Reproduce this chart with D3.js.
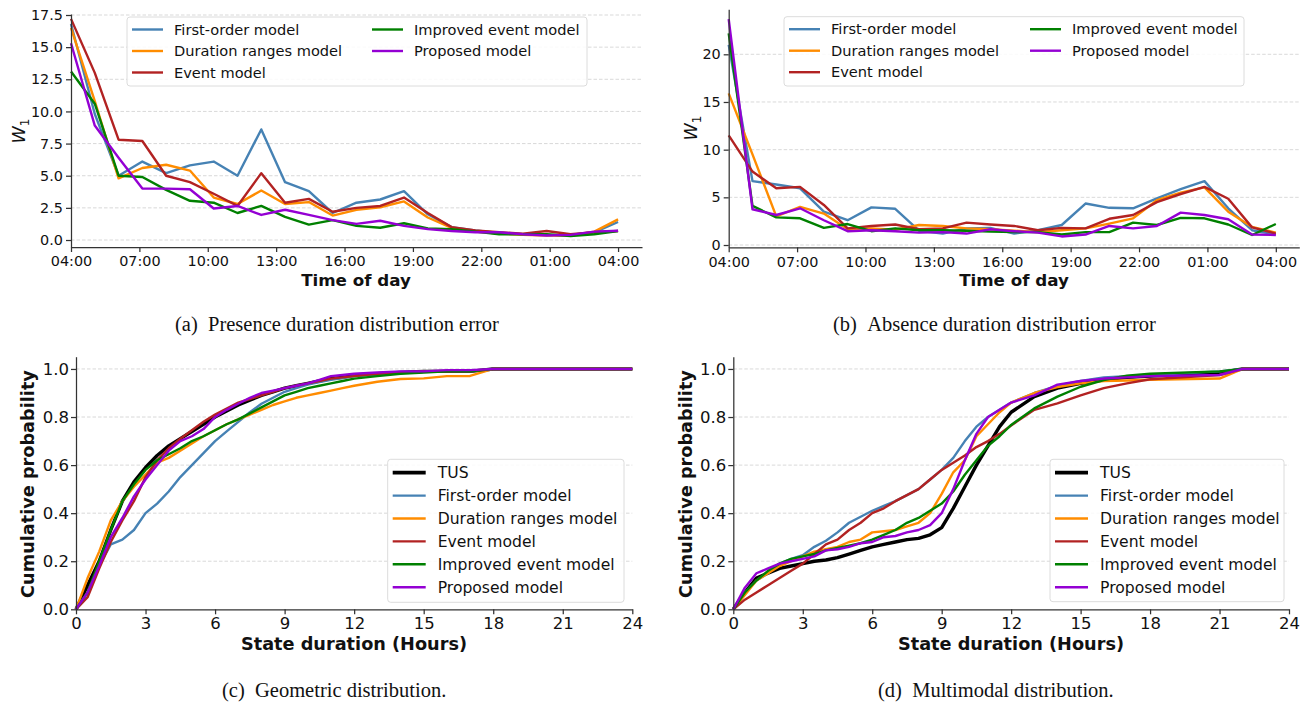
<!DOCTYPE html>
<html>
<head>
<meta charset="utf-8">
<script src="https://cdn.jsdelivr.net/npm/d3@7"></script>
<style>
  body { margin: 0; background: #fff; }
  svg { display: block; }
</style>
</head>
<body>
<svg id="chart" width="1313" height="705"></svg>
<script>
// ---------- data ----------
var modelNames = ["First-order model", "Duration ranges model", "Event model", "Improved event model", "Proposed model"];
var modelColors = ["#4682b4", "#ff8c00", "#b22222", "#008000", "#9400d3"];

var timeTickHours = [0, 3, 6, 9, 12, 15, 18, 21, 24];
var timeTickLabels = ["04:00", "07:00", "10:00", "13:00", "16:00", "19:00", "22:00", "01:00", "04:00"];

// (a) presence duration error, 24 samples from 04:00 to 04:00
var presFirst    = [16.8, 9.8, 5.0, 6.1, 5.2, 5.8, 6.1, 5.0, 8.6, 4.5, 3.8, 2.1, 2.9, 3.15, 3.8, 2.0, 1.0, 0.75, 0.55, 0.45, 0.4, 0.4, 0.6, 1.4];
var presDuration = [16.5, 10.8, 4.8, 5.6, 5.85, 5.4, 3.3, 2.8, 3.85, 2.8, 2.95, 1.9, 2.35, 2.55, 3.0, 1.75, 0.95, 0.65, 0.5, 0.4, 0.35, 0.35, 0.65, 1.6];
var presEvent    = [17.2, 13.0, 7.8, 7.7, 5.0, 4.5, 3.6, 2.65, 5.2, 2.9, 3.2, 2.2, 2.5, 2.65, 3.3, 2.1, 1.0, 0.75, 0.6, 0.5, 0.7, 0.45, 0.6, 0.7];
var presImproved = [13.1, 10.6, 5.0, 4.9, 3.9, 3.05, 2.9, 2.1, 2.65, 1.8, 1.2, 1.55, 1.1, 0.95, 1.3, 0.9, 0.85, 0.65, 0.45, 0.45, 0.45, 0.3, 0.45, 0.7];
var presProposed = [15.3, 8.9, 6.4, 4.0, 4.0, 3.95, 2.45, 2.65, 1.95, 2.35, 1.95, 1.55, 1.25, 1.5, 1.1, 0.85, 0.7, 0.6, 0.6, 0.45, 0.35, 0.4, 0.65, 0.72];

// (b) absence duration error
var absFirst    = [21.0, 6.7, 6.35, 5.95, 3.5, 2.6, 3.95, 3.8, 1.5, 1.2, 1.75, 1.8, 1.2, 1.55, 2.1, 4.35, 3.9, 3.85, 4.9, 5.85, 6.7, 3.85, 1.55, 1.1];
var absDuration = [15.9, 9.5, 3.0, 4.0, 3.3, 1.65, 1.75, 1.6, 2.1, 2.0, 1.75, 1.65, 1.5, 1.35, 1.55, 1.75, 2.25, 2.8, 4.7, 5.5, 6.05, 3.5, 1.9, 1.3];
var absEvent    = [11.5, 7.7, 5.95, 6.1, 4.2, 1.75, 2.0, 2.15, 1.65, 1.75, 2.35, 2.15, 2.0, 1.55, 1.8, 1.75, 2.75, 3.15, 4.5, 5.35, 6.1, 4.85, 1.85, 1.2];
var absImproved = [22.2, 4.1, 2.9, 2.8, 1.8, 2.2, 1.45, 1.75, 1.55, 1.55, 1.5, 1.4, 1.35, 1.35, 1.1, 1.35, 1.35, 2.35, 2.1, 2.85, 2.8, 2.15, 1.05, 2.2];
var absProposed = [23.7, 3.75, 3.15, 3.85, 2.6, 1.45, 1.55, 1.45, 1.3, 1.35, 1.2, 1.65, 1.45, 1.3, 0.9, 1.1, 2.0, 1.75, 2.0, 3.4, 3.15, 2.7, 1.1, 1.05];

// (c), (d) cumulative distributions of state duration
var durHours = [0, 0.5, 1, 1.5, 2, 2.5, 3, 3.5, 4, 4.5, 5, 5.5, 6, 6.5, 7, 7.5, 8, 8.5, 9, 9.5, 10, 10.5, 11, 11.5, 12, 13, 14, 15, 16, 17, 18, 21, 22, 24];

var geoTUS      = [0, .10, .20, .33, .45, .53, .59, .64, .68, .71, .74, .77, .80, .825, .85, .87, .89, .905, .92, .93, .94, .95, .96, .965, .975, .98, .985, .99, .99, .99, 1, 1, 1, 1];
var geoFirst    = [0, .07, .18, .27, .29, .33, .40, .44, .49, .55, .60, .65, .70, .74, .78, .82, .855, .88, .905, .92, .935, .945, .955, .962, .97, .978, .985, .99, .99, .99, 1, 1, 1, 1];
var geoDuration = [0, .13, .24, .37, .45, .51, .56, .61, .63, .66, .69, .72, .745, .77, .79, .81, .83, .85, .865, .88, .89, .90, .91, .92, .93, .947, .958, .961, .97, .971, 1, 1, 1, 1];
var geoEvent    = [0, .05, .17, .28, .37, .45, .55, .62, .67, .71, .745, .78, .81, .835, .86, .875, .89, .905, .92, .93, .94, .95, .96, .965, .97, .98, .985, .99, .99, .99, 1, 1, 1, 1];
var geoImproved = [0, .07, .20, .33, .45, .52, .58, .62, .645, .67, .70, .72, .745, .77, .79, .815, .84, .865, .89, .905, .92, .93, .94, .95, .96, .97, .98, .985, .99, .99, 1, 1, 1, 1];
var geoProposed = [0, .07, .18, .30, .38, .47, .54, .60, .66, .70, .72, .75, .80, .83, .855, .88, .90, .91, .92, .93, .94, .955, .97, .975, .98, .985, .99, .99, .995, .995, 1, 1, 1, 1];

var mmTUS      = [0, .07, .13, .15, .17, .18, .19, .20, .205, .215, .23, .245, .26, .27, .28, .29, .295, .31, .34, .42, .51, .60, .68, .76, .82, .885, .92, .94, .955, .965, .97, .985, 1, 1];
var mmFirst    = [0, .07, .12, .15, .19, .21, .225, .26, .285, .32, .36, .385, .41, .43, .45, .475, .50, .54, .58, .63, .70, .76, .80, .83, .86, .90, .93, .95, .965, .97, .975, .99, 1, 1];
var mmDuration = [0, .06, .12, .15, .18, .20, .22, .24, .25, .26, .28, .29, .32, .325, .33, .345, .36, .40, .48, .57, .62, .72, .77, .82, .86, .90, .925, .94, .95, .952, .955, .96, 1, 1];
var mmEvent    = [0, .04, .07, .10, .13, .16, .19, .23, .27, .29, .33, .36, .40, .42, .45, .475, .50, .54, .58, .61, .64, .675, .70, .73, .765, .83, .857, .89, .92, .94, .957, .975, 1, 1];
var mmImproved = [0, .07, .12, .16, .19, .21, .22, .23, .245, .255, .265, .275, .29, .31, .33, .36, .38, .41, .44, .49, .56, .62, .68, .72, .767, .836, .885, .926, .954, .972, .98, .99, 1, 1];
var mmProposed = [0, .09, .15, .17, .19, .20, .21, .22, .245, .25, .26, .275, .28, .30, .305, .32, .33, .35, .40, .50, .62, .73, .80, .83, .86, .89, .935, .95, .96, .965, .97, .975, 1, 1];

var durTicks = [0, 3, 6, 9, 12, 15, 18, 21, 24];
var probTicks = [0, 0.2, 0.4, 0.6, 0.8, 1.0];

// 24 samples spread evenly over the day
var sampleHours = d3.range(24).map(function(i) { return i * 24 / 23; });

var svg = d3.select("#chart");
var SANS = "DejaVu Sans, Verdana, sans-serif";
var AXIS_COLOR = "#333";
var LW = 2.4;

function styleAxis(g, fontSize) {
  g.select(".domain").attr("stroke", AXIS_COLOR).attr("stroke-width", 1.25);
  g.selectAll(".tick line").attr("stroke", AXIS_COLOR).attr("stroke-width", 1.25);
  g.selectAll(".tick text")
    .attr("fill", "#111")
    .style("font-family", SANS)
    .style("font-size", fontSize + "px");
}

function drawGrid(yScale, ticks, left, right) {
  svg.append("g").selectAll("line")
    .data(ticks)
    .enter().append("line")
      .attr("x1", left).attr("x2", right)
      .attr("y1", function(d) { return yScale(d); })
      .attr("y2", function(d) { return yScale(d); })
      .attr("stroke", "#cfcfcf")
      .attr("stroke-width", 0.8)
      .attr("stroke-dasharray", "3.5,2");
}

function drawLegend(cfg) {
  var lg = svg.append("g");
  lg.append("rect")
    .attr("x", cfg.x).attr("y", cfg.y)
    .attr("width", cfg.w).attr("height", cfg.h)
    .attr("rx", 3)
    .attr("fill", "#fff").attr("fill-opacity", 0.85)
    .attr("stroke", "#dcdcdc").attr("stroke-width", 1);
  cfg.items.forEach(function(it) {
    lg.append("line")
      .attr("x1", it.x).attr("x2", it.x + cfg.lineLen)
      .attr("y1", it.y).attr("y2", it.y)
      .attr("stroke", it.color)
      .attr("stroke-width", it.width);
    lg.append("text")
      .attr("x", it.x + cfg.textGap)
      .attr("y", it.y)
      .attr("dy", "0.36em")
      .style("font-family", SANS)
      .style("font-size", cfg.fontSize + "px")
      .attr("fill", "#111")
      .text(it.name);
  });
}

function drawTimePanel(cfg) {
  var x = d3.scaleLinear().domain([0, cfg.xMax]).range([cfg.left, cfg.right]);
  var y = d3.scaleLinear().domain([cfg.yMin, cfg.yMax]).range([cfg.bottom, cfg.top]);

  drawGrid(y, cfg.yTicks, cfg.left, cfg.right);

  var line = d3.line()
    .x(function(d, i) { return x(sampleHours[i]); })
    .y(function(d) { return y(d); });

  cfg.series.forEach(function(s, k) {
    svg.append("path")
      .datum(s)
      .attr("fill", "none")
      .attr("stroke", modelColors[k])
      .attr("stroke-width", LW)
      .attr("stroke-linejoin", "round")
      .attr("d", line);
  });

  var xAxis = d3.axisBottom(x)
    .tickValues(timeTickHours)
    .tickFormat(function(d, i) { return timeTickLabels[i]; })
    .tickSize(5).tickSizeOuter(0).tickPadding(4);
  var gx = svg.append("g")
    .attr("transform", "translate(0," + cfg.bottom + ")")
    .call(xAxis);
  styleAxis(gx, 14.4);

  var yAxis = d3.axisLeft(y)
    .tickValues(cfg.yTicks)
    .tickFormat(cfg.yFmt)
    .tickSize(5).tickSizeOuter(0).tickPadding(3);
  var gy = svg.append("g")
    .attr("transform", "translate(" + cfg.left + ",0)")
    .call(yAxis);
  styleAxis(gy, 14.4);

  svg.append("text")
    .attr("x", cfg.xLabelX).attr("y", cfg.xLabelY)
    .attr("text-anchor", "middle")
    .style("font-family", SANS)
    .style("font-size", "16.7px")
    .style("font-weight", "bold")
    .attr("fill", "#111")
    .text("Time of day");

  var wl = svg.append("text")
    .attr("transform", "translate(" + cfg.yLabelX + "," + cfg.yLabelY + ") rotate(-90)")
    .attr("text-anchor", "middle")
    .style("font-family", SANS)
    .style("font-size", "17.5px")
    .attr("fill", "#111");
  wl.append("tspan").style("font-style", "italic").text("W");
  wl.append("tspan").attr("dy", 4).style("font-size", "12px").text("1");

  drawLegend(cfg.legend);
}

function drawCdfPanel(cfg) {
  var x = d3.scaleLinear().domain([0, 24]).range([cfg.left, cfg.right]);
  var y = d3.scaleLinear().domain([0, 1.051]).range([cfg.bottom, cfg.top]);

  drawGrid(y, probTicks.slice(1), cfg.left, cfg.right);

  var line = d3.line()
    .x(function(d, i) { return x(durHours[i]); })
    .y(function(d) { return y(d); });

  var colors = ["#000"].concat(modelColors);
  cfg.series.forEach(function(s, k) {
    svg.append("path")
      .datum(s)
      .attr("fill", "none")
      .attr("stroke", colors[k])
      .attr("stroke-width", k === 0 ? 3.4 : LW)
      .attr("stroke-linejoin", "round")
      .attr("d", line);
  });

  var xAxis = d3.axisBottom(x)
    .tickValues(durTicks)
    .tickFormat(d3.format("d"))
    .tickSize(5).tickSizeOuter(0).tickPadding(3);
  var gx = svg.append("g")
    .attr("transform", "translate(0," + cfg.bottom + ")")
    .call(xAxis);
  styleAxis(gx, 16.5);

  var yAxis = d3.axisLeft(y)
    .tickValues(probTicks)
    .tickFormat(d3.format(".1f"))
    .tickSize(5).tickSizeOuter(0).tickPadding(2);
  var gy = svg.append("g")
    .attr("transform", "translate(" + cfg.left + ",0)")
    .call(yAxis);
  styleAxis(gy, 16.5);

  svg.append("text")
    .attr("x", cfg.xLabelX).attr("y", cfg.xLabelY)
    .attr("text-anchor", "middle")
    .style("font-family", SANS)
    .style("font-size", "17.7px")
    .style("font-weight", "bold")
    .attr("fill", "#111")
    .text("State duration (Hours)");

  svg.append("text")
    .attr("transform", "translate(" + cfg.yLabelX + "," + cfg.yLabelY + ") rotate(-90)")
    .attr("text-anchor", "middle")
    .style("font-family", SANS)
    .style("font-size", "17.7px")
    .style("font-weight", "bold")
    .attr("fill", "#111")
    .text("Cumulative probability");

  drawLegend(cfg.legend);
}

function twoColLegend(left, top, right, bottom, c2) {
  var rows = [top + 12.5, top + 34, top + 55.5];
  var items = modelNames.map(function(n, i) {
    return {
      name: n, color: modelColors[i], width: LW,
      x: i < 3 ? left + 5 : c2,
      y: i < 3 ? rows[i] : rows[i - 3]
    };
  });
  return { x: left, y: top, w: right - left, h: bottom - top, lineLen: 31, textGap: 42, fontSize: 14.6, items: items };
}

function cdfLegend(left, top, right, bottom) {
  var names = ["TUS"].concat(modelNames);
  var colors = ["#000"].concat(modelColors);
  var items = names.map(function(n, i) {
    return { name: n, color: colors[i], width: i === 0 ? 3.8 : LW, x: left + 5, y: top + 13.4 + i * 22.9 };
  });
  return { x: left, y: top, w: right - left, h: bottom - top, lineLen: 33, textGap: 45, fontSize: 15.6, items: items };
}

// (a)
drawTimePanel({
  left: 71, right: 642, top: 14, bottom: 247,
  xMax: 25.05, yMin: -0.544, yMax: 17.578,
  yTicks: [0, 2.5, 5, 7.5, 10, 12.5, 15, 17.5], yFmt: d3.format(".1f"),
  series: [presFirst, presDuration, presEvent, presImproved, presProposed],
  xLabelX: 356, xLabelY: 286, yLabelX: 25, yLabelY: 131,
  legend: twoColLegend(127, 17, 587, 86, 372)
});

// (b)
drawTimePanel({
  left: 728.7, right: 1299.3, top: 9.3, bottom: 247.3,
  xMax: 25.03, yMin: -0.24, yMax: 24.72,
  yTicks: [0, 5, 10, 15, 20], yFmt: d3.format("d"),
  series: [absFirst, absDuration, absEvent, absImproved, absProposed],
  xLabelX: 1014, xLabelY: 286, yLabelX: 697, yLabelY: 128,
  legend: twoColLegend(784, 16.7, 1244, 86, 1030)
});

// (c)
drawCdfPanel({
  left: 76, right: 632.3, top: 356.7, bottom: 609.3,
  series: [geoTUS, geoFirst, geoDuration, geoEvent, geoImproved, geoProposed],
  xLabelX: 354, xLabelY: 650, yLabelX: 34, yLabelY: 484,
  legend: cdfLegend(387.7, 459.3, 624, 602.3)
});

// (d)
drawCdfPanel({
  left: 733.3, right: 1289, top: 356.7, bottom: 609.3,
  series: [mmTUS, mmFirst, mmDuration, mmEvent, mmImproved, mmProposed],
  xLabelX: 1011, xLabelY: 650, yLabelX: 692, yLabelY: 484,
  legend: cdfLegend(1050, 459.3, 1284, 601.7)
});

// sub-figure captions
var captions = [
  { text: "(a)\u00a0\u00a0Presence duration distribution error", x: 175, y: 331 },
  { text: "(b)\u00a0\u00a0Absence duration distribution error", x: 833, y: 331 },
  { text: "(c)\u00a0\u00a0Geometric distribution.", x: 222, y: 697 },
  { text: "(d)\u00a0\u00a0Multimodal distribution.", x: 878, y: 697 }
];
svg.selectAll("text.caption")
  .data(captions)
  .enter().append("text")
    .attr("class", "caption")
    .attr("x", function(d) { return d.x; })
    .attr("y", function(d) { return d.y; })
    .style("font-family", "Liberation Serif, Times New Roman, serif")
    .style("font-size", "20.5px")
    .attr("fill", "#111")
    .text(function(d) { return d.text; });
</script>
</body>
</html>
